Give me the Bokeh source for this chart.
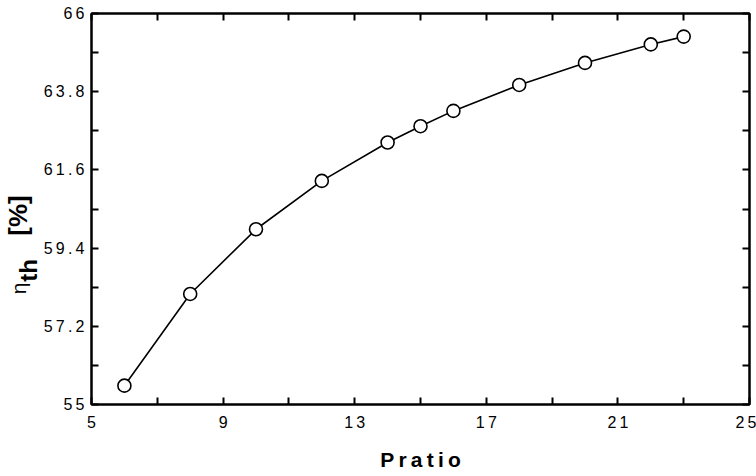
import math
from bokeh.plotting import figure
from bokeh.layouts import row
from bokeh.models import (FixedTicker, LinearAxis, Range1d,
                          CustomJSTickFormatter, ColumnDataSource)
from bokeh.core.properties import value
from bokeh.embed import file_html
from bokeh.resources import INLINE

# ---- data ----
pratio = [6, 8, 10, 12, 14, 15, 16, 18, 20, 22, 23]
eta_th = [55.53, 58.11, 59.93, 61.29, 62.37, 62.83, 63.26, 63.99, 64.61, 65.13, 65.35]

x_major = [5, 9, 13, 17, 21, 25]
x_minor = [7, 11, 15, 19, 23]
y_major = [55, 57.2, 59.4, 61.6, 63.8, 66]
y_minor = [56.1, 58.3, 60.5, 62.7, 64.9]

FONT = "Liberation Sans"
W_LEFT = 40
H = 476
TOP, BOTTOM = 13, 72

p = figure(width=756 - W_LEFT, height=H, output_backend="svg", toolbar_location=None,
           x_range=Range1d(5, 25), y_range=Range1d(55, 66),
           min_border_left=88 - W_LEFT, min_border_right=7, min_border_top=TOP,
           min_border_bottom=BOTTOM)
p.xgrid.visible = False
p.ygrid.visible = False
p.outline_line_color = "black"
p.outline_line_width = 2
p.background_fill_color = "white"
p.border_fill_color = "white"

fmt = CustomJSTickFormatter(code="return String(tick).split('').join('\\u2009');")
blank = CustomJSTickFormatter(code="return '';")

def style(ax, show_labels=True):
    ax.axis_line_width = 2
    ax.axis_line_color = "black"
    ax.major_tick_in = 7
    ax.major_tick_out = 0
    ax.minor_tick_in = 7
    ax.minor_tick_out = 0
    ax.major_tick_line_width = 2
    ax.minor_tick_line_width = 2
    ax.major_tick_line_color = "black"
    ax.minor_tick_line_color = "black"
    ax.major_label_text_font = FONT
    ax.major_label_text_font_size = "16px" if show_labels else "1px"
    ax.major_label_text_color = "black"
    ax.formatter = fmt if show_labels else blank

xax = p.xaxis[0]
xax.ticker = FixedTicker(ticks=x_major, minor_ticks=x_minor)
style(xax)
xax.major_label_standoff = 9
xax.axis_label = "P\u2009r\u2009a\u2009t\u2009i\u2009o"
xax.axis_label_text_font = FONT
xax.axis_label_text_font_style = "bold"
xax.axis_label_text_font_size = "21px"
xax.axis_label_text_color = "black"
xax.axis_label_standoff = 14

yax = p.yaxis[0]
yax.ticker = FixedTicker(ticks=y_major, minor_ticks=y_minor)
style(yax)
yax.major_label_standoff = 7

top = LinearAxis(ticker=FixedTicker(ticks=x_major, minor_ticks=x_minor))
style(top, False)
top.major_label_standoff = 0
p.add_layout(top, "above")
right = LinearAxis(ticker=FixedTicker(ticks=y_major, minor_ticks=y_minor))
style(right, False)
right.major_label_standoff = 0
p.add_layout(right, "right")

src = ColumnDataSource(dict(x=pratio, y=eta_th))
p.line("x", "y", source=src, line_color="black", line_width=1.6)
p.scatter("x", "y", source=src, size=13, marker="circle", fill_color="white",
          line_color="black", line_width=1.6)

# ---- left strip holding the rotated y-axis title: eta_th [%] ----
# its frame is aligned with the main frame; y counts pixels up from the page bottom
q = figure(width=W_LEFT, height=H, output_backend="svg", toolbar_location=None,
           x_range=Range1d(0, W_LEFT), y_range=Range1d(BOTTOM, H - TOP),
           min_border_left=0, min_border_right=0, min_border_top=TOP,
           min_border_bottom=BOTTOM, x_axis_location=None, y_axis_location=None)
q.outline_line_color = None
q.xgrid.visible = False
q.ygrid.visible = False
q.border_fill_color = "white"
q.background_fill_color = "white"

q.text(x=[18], y=[H - 288], text=["\u03b7"], angle=math.pi / 2,
       text_align="center", text_baseline="middle",
       text_font=value(FONT), text_font_size=value("21px"), text_color="black")
q.text(x=[27.5], y=[H - 270], text=["th"], angle=math.pi / 2,
       text_align="center", text_baseline="middle",
       text_font=value(FONT), text_font_size=value("24px"),
       text_font_style="bold", text_color="black")
q.text(x=[17.5], y=[H - 215], text=["[%]"], angle=math.pi / 2,
       text_align="center", text_baseline="middle",
       text_font=value(FONT), text_font_size=value("26px"),
       text_font_style="bold", text_color="black")

layout = row(q, p, spacing=0)
open("out.html", "w").write(file_html(layout, INLINE))
